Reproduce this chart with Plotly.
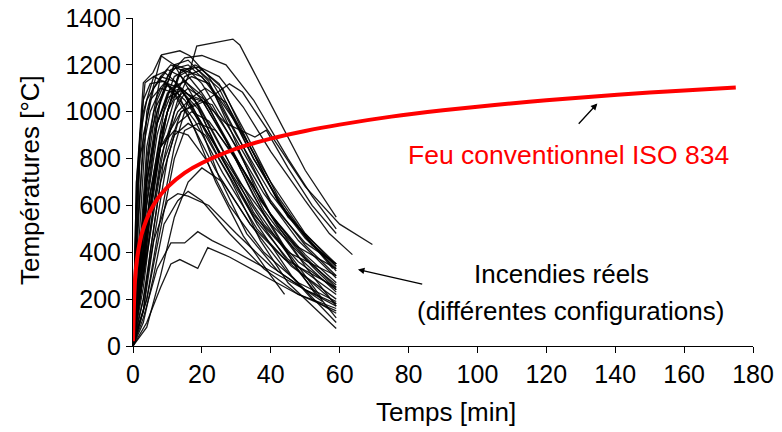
import plotly.graph_objects as go

# ISO 834 standard fire curve
iso_time = [0, 0.5, 1, 2, 3, 5, 7, 10, 15, 20, 30, 40, 50, 60, 75, 90, 105, 120, 135, 150, 165, 175]
iso_temp = [20, 260, 350, 445, 502, 576, 626, 678, 739, 781, 842, 885, 918, 945, 979, 1006, 1029, 1049, 1066, 1082, 1095, 1103]

fire_times = [
    [0, 2, 4, 7, 12, 16, 20, 30, 40, 50, 59],
    [0, 1.5, 3, 6, 10, 14, 20, 30, 40, 50, 59],
    [0, 2, 5, 9, 13, 18, 25, 35, 45, 55, 59],
    [0, 1, 3, 5, 9, 15, 22, 30, 40, 50, 59],
    [0, 2, 4, 8, 11, 15, 20, 28, 38, 48, 59],
    [0, 3, 6, 10, 14, 19, 25, 33, 42, 50, 58],
    [0, 2, 5, 8, 12, 17, 22, 30, 40, 50, 59],
    [0, 1, 3, 6, 9, 13, 20, 28, 38, 48, 59],
    [0, 3, 6, 9, 12, 15, 20, 27, 35, 45, 55],
    [0, 2, 4, 7, 11, 16, 22, 30, 40, 50, 59],
    [0, 2, 5, 8, 11, 14, 18, 25, 35, 45, 53],
    [0, 3, 6, 10, 13, 17, 22, 30, 40, 50, 59],
    [0, 4, 8, 12, 15, 19, 24, 32, 42, 52, 59],
    [0, 3, 6, 9, 13, 16, 20, 28, 38, 48, 59],
    [0, 4, 8, 12, 16, 20, 26, 34, 44, 52, 59],
    [0, 2, 5, 8, 12, 16, 21, 28, 38, 48, 59],
    [0, 1, 2, 4, 8, 12, 17, 25, 35, 45, 59],
    [0, 1, 3, 5, 8, 12, 18, 26, 36, 46, 59],
    [0, 2, 4, 7, 10, 14, 19, 26, 35, 45, 59],
    [0, 2, 4, 7, 11, 15, 20, 28, 38, 48, 59],
    [0, 3, 6, 9, 13, 17, 23, 31, 40, 50, 59],
    [0, 2, 5, 8, 12, 16, 21, 28, 38, 48, 59],
    [0, 2, 4, 7, 10, 14, 19, 26, 36, 46, 59],
    [0, 3, 5, 8, 12, 16, 21, 28, 37, 45, 59],
    [0, 3, 7, 11, 15, 18.8, 23, 30, 40, 50, 59],
    [0, 4, 8, 11, 13.6, 18.8, 21.7, 28, 38, 48, 59],
    [0, 3, 6, 10, 13, 16, 22, 30, 40, 50, 59],
    [0, 3, 8, 13, 16, 18.5, 29, 31, 39, 44, 50, 59],
    [0, 2, 4, 8.3, 13.6, 16.5, 22, 28, 35, 45, 59],
    [0, 3, 8, 14, 21.3, 28, 31.8, 40, 50, 60, 69.5],
    [0, 3, 7, 12, 18, 25, 32, 40, 50, 57, 63.7],
    [0, 2, 5, 10, 15, 20, 27, 35, 45, 52, 59],
    [0, 1, 3, 5.8, 8.1, 12, 18, 25, 35, 45, 59],
    [0, 1, 2, 3.5, 6, 10, 16, 24, 34, 44, 59],
    [0, 2, 4, 8, 12, 16, 22, 29, 37, 47, 59],
    [0, 3, 6, 10, 15, 20, 26, 33, 42, 52, 59],
    [0, 2, 5, 9, 14, 20, 25, 32, 40, 50, 59],
    [0, 4, 8, 12, 16, 21, 27, 34, 42, 51, 59],
    [0, 2, 4, 6, 10, 14, 19, 25, 33, 42, 55],
    [0, 1, 2, 5, 9, 13, 18, 24, 32, 40, 44],
    [0, 3, 8, 14, 20, 27, 35.4, 38.7, 45, 52, 59],
]
fire_temps = [
    [20, 300, 700, 1000, 1200, 1180, 1120, 880, 620, 430, 300],
    [10, 500, 900, 1100, 1180, 1150, 1050, 800, 560, 390, 270],
    [30, 200, 600, 950, 1150, 1190, 1100, 800, 560, 390, 320],
    [20, 700, 1050, 1120, 1130, 1050, 900, 720, 520, 370, 260],
    [0, 400, 850, 1150, 1200, 1170, 1080, 900, 650, 450, 290],
    [50, 350, 700, 1000, 1180, 1190, 1120, 900, 640, 470, 330],
    [20, 250, 650, 900, 1100, 1150, 1120, 950, 700, 480, 340],
    [40, 600, 1000, 1150, 1170, 1120, 950, 750, 520, 360, 240],
    [0, 200, 500, 800, 1000, 1080, 1050, 880, 640, 400, 200],
    [20, 350, 750, 1050, 1180, 1200, 1120, 900, 650, 460, 330],
    [10, 250, 600, 900, 1050, 1100, 1050, 860, 600, 390, 220],
    [0, 150, 450, 800, 950, 1000, 960, 800, 560, 380, 250],
    [20, 200, 500, 800, 920, 950, 920, 750, 510, 340, 240],
    [0, 100, 300, 520, 620, 660, 620, 480, 330, 220, 160],
    [0, 80, 300, 550, 700, 760, 700, 520, 330, 200, 140],
    [20, 300, 650, 850, 920, 900, 800, 600, 400, 270, 190],
    [20, 600, 900, 1050, 1150, 1130, 1030, 800, 550, 370, 220],
    [30, 450, 850, 1000, 1100, 1080, 960, 740, 500, 340, 200],
    [10, 350, 700, 950, 1080, 1100, 1030, 840, 570, 360, 180],
    [20, 300, 650, 950, 1100, 1130, 1070, 860, 580, 380, 230],
    [10, 250, 600, 850, 1000, 1060, 1030, 820, 560, 340, 170],
    [0, 200, 550, 850, 1050, 1100, 1050, 850, 560, 320, 120],
    [20, 250, 600, 900, 1060, 1090, 1010, 800, 520, 300, 100],
    [0, 150, 400, 700, 900, 950, 900, 720, 450, 270, 75],
    [0, 120, 330, 440, 440, 488, 450, 400, 320, 240, 180],
    [0, 100, 250, 350, 369, 331, 420, 380, 300, 220, 150],
    [20, 200, 450, 620, 650, 640, 600, 480, 340, 240, 170],
    [20, 300, 800, 1050, 1150, 1280, 1310, 1285, 1060, 920, 750, 550],
    [20, 500, 1000, 1243, 1260, 1239, 1150, 1000, 800, 550, 350],
    [20, 400, 850, 1000, 1048, 1119, 1083, 900, 680, 520, 433],
    [20, 500, 950, 1150, 1200, 1150, 1020, 830, 620, 480, 390],
    [30, 400, 900, 1150, 1230, 1240, 1200, 1050, 800, 640, 500],
    [20, 700, 1124, 1167, 1239, 1200, 1050, 820, 560, 400, 300],
    [50, 500, 900, 1124, 1150, 1120, 980, 750, 520, 370, 250],
    [0, 300, 700, 1050, 1200, 1220, 1130, 900, 620, 430, 330],
    [30, 300, 700, 1000, 1150, 1180, 1100, 880, 620, 430, 350],
    [10, 250, 650, 1000, 1180, 1150, 1050, 850, 610, 440, 350],
    [0, 200, 550, 850, 1050, 1100, 1040, 850, 620, 450, 340],
    [20, 350, 800, 1000, 1120, 1100, 960, 720, 480, 320, 190],
    [20, 400, 800, 1050, 1120, 1080, 920, 700, 470, 300, 220],
    [20, 300, 750, 1000, 1050, 950, 892, 921, 760, 600, 480],
]

x_ticks = [0, 20, 40, 60, 80, 100, 120, 140, 160, 180]
y_ticks = [0, 200, 400, 600, 800, 1000, 1200, 1400]

FONT = "Liberation Sans, Arial, sans-serif"

# page has an 8px body margin: figure is drawn at (8, 8)
OFF = 8
FIG_W, FIG_H = 782 - OFF, 432 - OFF
PX0, PX1 = 133, 753     # plot area in page pixels
PY0, PY1 = 18, 346
L, T = PX0 - OFF, PY0 - OFF
PW, PH = PX1 - PX0, PY1 - PY0
R, B = FIG_W - L - PW, FIG_H - T - PH


def px(x):
    return (x - PX0) / PW


def py(y):
    return (PY1 - y) / PH


fig = go.Figure()
for t, temps in zip(fire_times, fire_temps):
    fig.add_trace(go.Scatter(x=t, y=temps, mode="lines",
                             line=dict(color="rgba(0,0,0,0.9)", width=1.3),
                             showlegend=False, hoverinfo="skip"))
fig.add_trace(go.Scatter(x=iso_time, y=iso_temp, mode="lines",
                         line=dict(color="#ff0000", width=4, shape="spline"),
                         showlegend=False))

axis_common = dict(showgrid=False, zeroline=False, showline=True, linecolor="black",
                   linewidth=1, ticks="outside", ticklen=6, tickcolor="black",
                   automargin=False, ticklabeloverflow="allow",
                   tickfont=dict(size=25))

fig.update_layout(
    width=FIG_W, height=FIG_H,
    margin=dict(l=L, r=R, t=T, b=B, autoexpand=False),
    paper_bgcolor="white", plot_bgcolor="white",
    font=dict(family=FONT, size=25, color="black"),
    xaxis=dict(range=[0, 180], tickvals=x_ticks, **axis_common),
    yaxis=dict(range=[0, 1400], tickvals=y_ticks, **axis_common),
    annotations=[
        dict(text="Temps [min]", xref="paper", yref="paper", x=px(446), y=py(412),
             xanchor="center", yanchor="middle", showarrow=False, font=dict(size=26)),
        dict(text="Températures [°C]", xref="paper", yref="paper", x=px(30), y=py(180),
             xanchor="center", yanchor="middle", showarrow=False, textangle=-90,
             font=dict(size=26)),
        dict(text="Feu conventionnel ISO 834", xref="paper", yref="paper",
             x=px(568), y=py(155), xanchor="center", yanchor="middle",
             showarrow=False, font=dict(size=26.5, color="#ff0000")),
        dict(text="Incendies réels", xref="paper", yref="paper",
             x=px(561), y=py(274), xanchor="center", yanchor="middle",
             showarrow=False, font=dict(size=26)),
        dict(text="(différentes configurations)", xref="paper", yref="paper",
             x=px(570), y=py(311), xanchor="center", yanchor="middle",
             showarrow=False, font=dict(size=26)),
        dict(x=134.8, y=1035, ax=129, ay=942, xref="x", yref="y", axref="x", ayref="y",
             text="", showarrow=True, arrowhead=2, arrowsize=1, arrowwidth=1.3,
             arrowcolor="black"),
        dict(x=65.3, y=327, ax=84.4, ay=263, xref="x", yref="y", axref="x", ayref="y",
             text="", showarrow=True, arrowhead=2, arrowsize=1, arrowwidth=1.3,
             arrowcolor="black"),
    ],
)

fig.write_html("out.html")
